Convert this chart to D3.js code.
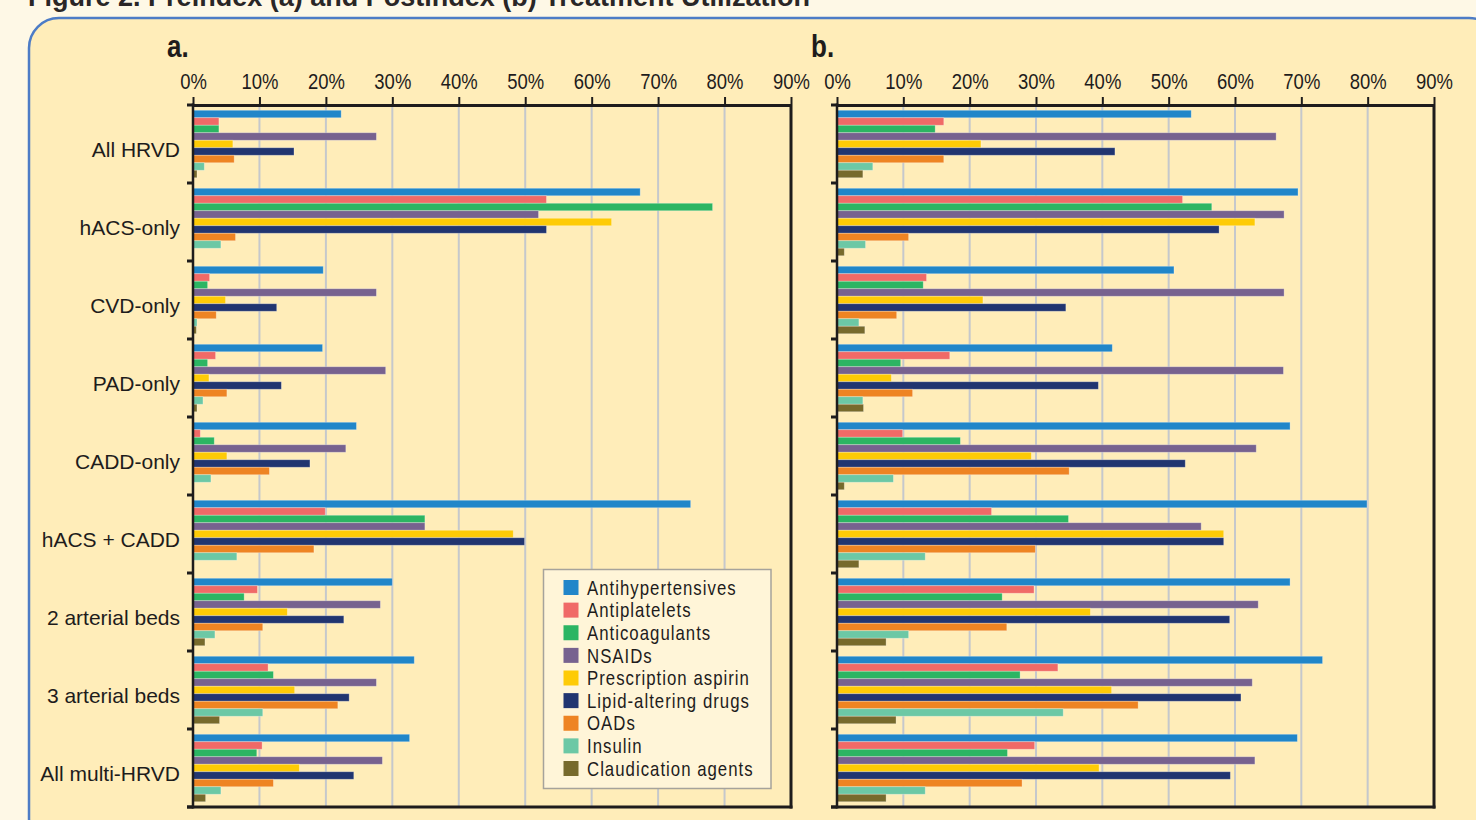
<!DOCTYPE html>
<html>
<head>
<meta charset="utf-8">
<script src="https://cdn.jsdelivr.net/npm/d3@7"></script>
<style>
  html, body { margin: 0; padding: 0; background: #fef8e6; }
  svg { display: block; }
  .cond { font-family: "Liberation Sans", Arial, sans-serif; }
  .reg { font-family: "Liberation Sans", Arial, sans-serif; }
</style>
</head>
<body>
<svg id="chart" width="1476" height="820"></svg>
<script>
// ---------- data ----------
const categories = ["All HRVD", "hACS-only", "CVD-only", "PAD-only", "CADD-only", "hACS + CADD", "2 arterial beds", "3 arterial beds", "All multi-HRVD"];
const seriesNames = ["Antihypertensives", "Antiplatelets", "Anticoagulants", "NSAIDs", "Prescription aspirin", "Lipid-altering drugs", "OADs", "Insulin", "Claudication agents"];
const seriesColors = ["#2186c9", "#f06a67", "#2cb563", "#77628f", "#fecb06", "#213570", "#ee8423", "#6cc8a5", "#776a2c"];
const xTicks = [0, 10, 20, 30, 40, 50, 60, 70, 80, 90];

// (a) Preindex, % of patients, one array per treatment (order = categories)
const preAntihypertensives = [22.3, 67.3, 19.6, 19.5, 24.6, 74.9, 30.0, 33.3, 32.6];
const preAntiplatelets     = [3.9, 53.2, 2.5, 3.4, 1.1, 19.9, 9.7, 11.3, 10.4];
const preAnticoagulants    = [3.9, 78.2, 2.2, 2.2, 3.2, 34.9, 7.7, 12.1, 9.6];
const preNSAIDs            = [27.6, 52.0, 27.6, 29.0, 23.0, 34.9, 28.2, 27.6, 28.5];
const preAspirin           = [6.0, 63.0, 4.9, 2.4, 5.1, 48.2, 14.2, 15.3, 16.0];
const preLipid             = [15.2, 53.2, 12.6, 13.3, 17.6, 49.9, 22.7, 23.5, 24.2];
const preOADs              = [6.2, 6.4, 3.5, 5.1, 11.5, 18.2, 10.5, 21.8, 12.1];
const preInsulin           = [1.7, 4.2, 0.6, 1.5, 2.7, 6.6, 3.3, 10.5, 4.2];
const preClaudication      = [0.6, 0, 0.5, 0.6, 0, 0, 1.8, 4.0, 1.9];

// (b) Postindex
const postAntihypertensives = [53.4, 69.5, 50.8, 41.5, 68.3, 79.9, 68.3, 73.2, 69.4];
const postAntiplatelets     = [16.1, 52.1, 13.5, 17.0, 9.9, 23.3, 29.7, 33.3, 29.8];
const postAnticoagulants    = [14.8, 56.5, 13.0, 9.6, 18.6, 34.9, 24.9, 27.6, 25.7];
const postNSAIDs            = [66.2, 67.4, 67.4, 67.3, 63.2, 54.9, 63.5, 62.6, 63.0];
const postAspirin           = [21.7, 63.0, 22.0, 8.2, 29.3, 58.3, 38.2, 41.4, 39.5];
const postLipid             = [41.9, 57.6, 34.5, 39.4, 52.5, 58.3, 59.2, 60.9, 59.3];
const postOADs              = [16.1, 10.8, 9.0, 11.4, 35.0, 29.9, 25.6, 45.4, 27.9];
const postInsulin           = [5.4, 4.3, 3.3, 3.9, 8.5, 13.3, 10.8, 34.1, 13.3];
const postClaudication      = [3.9, 1.1, 4.2, 4.0, 1.1, 3.3, 7.4, 8.9, 7.4];

const preSeries  = [preAntihypertensives, preAntiplatelets, preAnticoagulants, preNSAIDs, preAspirin, preLipid, preOADs, preInsulin, preClaudication];
const postSeries = [postAntihypertensives, postAntiplatelets, postAnticoagulants, postNSAIDs, postAspirin, postLipid, postOADs, postInsulin, postClaudication];

// ---------- drawing ----------
const svg = d3.select("#chart");
const ink = "#1e1c1c";
const narrow = 0.84; // horizontal squeeze to imitate a condensed face

// figure title, cut off at the top edge as in the original
svg.append("text")
  .attr("class", "cond")
  .attr("x", 28).attr("y", 6)
  .attr("font-size", 27).attr("font-weight", "bold")
  .attr("fill", "#2a2626")
  .attr("textLength", 782).attr("lengthAdjust", "spacingAndGlyphs")
  .text("Figure 2. Preindex (a) and Postindex (b) Treatment Utilization");

// rounded panel
svg.append("rect")
  .attr("x", 29).attr("y", 18)
  .attr("width", 1470).attr("height", 830)
  .attr("rx", 30).attr("ry", 30)
  .attr("fill", "#ffedb9")
  .attr("stroke", "#4d7cc6").attr("stroke-width", 2.5);

const yTop = 105, yBottom = 807;
const y = d3.scaleBand().domain(categories).range([yTop, yBottom]).padding(0);
const yInner = d3.scaleBand().domain(seriesNames).range([0, y.bandwidth()]).paddingInner(0).paddingOuter(0.7);

function drawPanel(x0, x1, seriesArr, letter, showLabels) {
  const x = d3.scaleLinear().domain([0, 90]).range([x0, x1]);
  const g = svg.append("g");

  // gridlines
  g.append("g").selectAll("line")
    .data(xTicks.filter(d => d > 0 && d < 90))
    .join("line")
    .attr("x1", d => x(d)).attr("x2", d => x(d))
    .attr("y1", yTop).attr("y2", yBottom)
    .attr("stroke", "#c5c8cc").attr("stroke-width", 2);

  // bars
  const groups = g.append("g").selectAll("g")
    .data(categories)
    .join("g")
    .attr("transform", c => `translate(0,${y(c)})`);

  groups.selectAll("rect")
    .data((c, ci) => seriesNames.map((s, si) => ({ s, si, v: seriesArr[si][ci] })))
    .join("rect")
    .attr("x", x(0))
    .attr("y", d => yInner(d.s))
    .attr("width", d => Math.max(0, x(d.v) - x(0)))
    .attr("height", yInner.bandwidth())
    .attr("fill", (d) => seriesColors[d.si])
    .attr("stroke", "rgba(255,255,255,0.35)")
    .attr("stroke-width", 0.8)
    .attr("display", d => d.v > 0 ? null : "none");

  // right & bottom frame
  g.append("line").attr("x1", x1).attr("x2", x1).attr("y1", yTop).attr("y2", yBottom + 1.5)
    .attr("stroke", ink).attr("stroke-width", 3);
  g.append("line").attr("x1", x0 - 6).attr("x2", x1 + 1.5).attr("y1", yBottom).attr("y2", yBottom)
    .attr("stroke", ink).attr("stroke-width", 3);

  // top axis
  const xAxis = d3.axisTop(x).tickValues(xTicks).tickFormat(d => d + "%").tickSize(8).tickSizeOuter(0).tickPadding(8);
  const ax = g.append("g").attr("transform", `translate(0,${yTop})`).call(xAxis);
  ax.select(".domain").attr("stroke", ink).attr("stroke-width", 3);
  ax.selectAll(".tick line").attr("stroke", ink).attr("stroke-width", 2);
  ax.selectAll(".tick text")
    .attr("class", "cond")
    .attr("font-size", 22)
    .attr("fill", ink)
    .attr("transform", `scale(${narrow},1)`);
  ax.attr("font-family", null).attr("font-size", null);

  // left axis line
  g.append("line").attr("x1", x0).attr("x2", x0).attr("y1", yTop - 1.5).attr("y2", yBottom + 1.5)
    .attr("stroke", ink).attr("stroke-width", 2.5);
  // left boundary ticks between categories
  const bounds = categories.map(c => y(c)).concat([yBottom]);
  g.append("g").selectAll("line")
    .data(bounds)
    .join("line")
    .attr("x1", x0 - 6).attr("x2", x0)
    .attr("y1", d => d).attr("y2", d => d)
    .attr("stroke", ink).attr("stroke-width", 3);

  // category labels
  if (showLabels) {
    const yAxis = d3.axisLeft(y).tickSize(0).tickPadding(13);
    const ay = g.append("g").attr("transform", `translate(${x0},0)`).call(yAxis);
    ay.select(".domain").remove();
    ay.selectAll(".tick text")
      .attr("class", "reg")
      .attr("font-size", 21)
      .attr("fill", ink)
      .attr("dy", "0.62em");
    ay.attr("font-family", null).attr("font-size", null);
  }

  // panel letter
  svg.append("g").attr("transform", `translate(${x0 - 26},57) scale(${narrow},1)`)
    .append("text").attr("class", "cond")
    .attr("x", 0).attr("y", 0)
    .attr("font-size", 31).attr("font-weight", "bold")
    .attr("fill", ink)
    .text(letter);
  return x;
}

drawPanel(193, 791, preSeries, "a.", true);
drawPanel(837, 1434, postSeries, "b.", false);

// legend
const lg = svg.append("g");
lg.append("rect")
  .attr("x", 543.5).attr("y", 569.5).attr("width", 227.5).attr("height", 219)
  .attr("fill", "#fff5d8").attr("stroke", "#a6a39b").attr("stroke-width", 1.5);
const ly = d3.scalePoint().domain(seriesNames).range([587.5, 768.5]);
const items = lg.selectAll("g.item").data(seriesNames).join("g").attr("class", "item")
  .attr("transform", d => `translate(0,${ly(d)})`);
items.append("rect")
  .attr("x", 563.5).attr("y", -7.5).attr("width", 15).attr("height", 15)
  .attr("fill", (d, i) => seriesColors[i]);
items.append("g").attr("transform", `translate(587,0) scale(${narrow},1)`)
  .append("text")
  .attr("class", "cond")
  .attr("x", 0).attr("y", 0).attr("dy", "0.36em")
  .attr("font-size", 20)
  .attr("letter-spacing", 1.2)
  .attr("fill", ink)
  .text(d => d);
</script>
</body>
</html>
